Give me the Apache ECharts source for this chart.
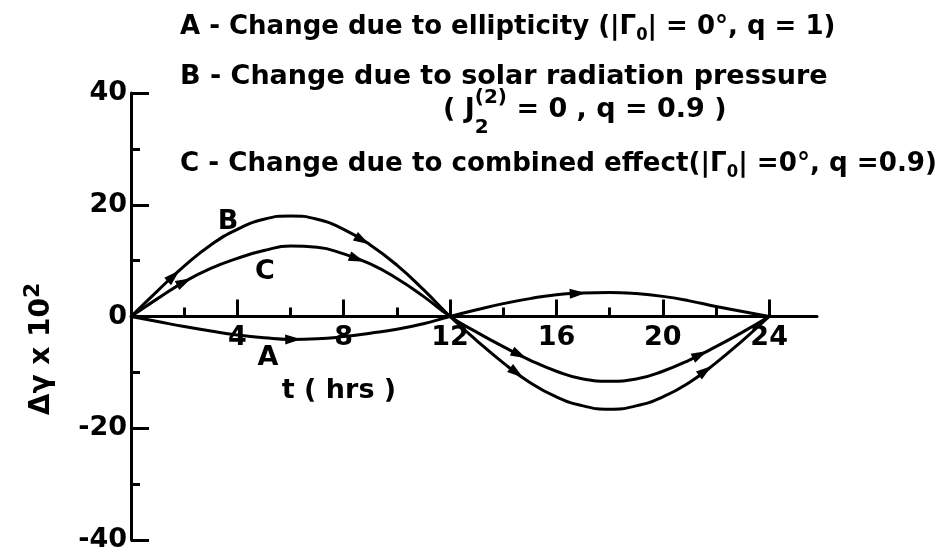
<!DOCTYPE html>
<html>
<head>
<meta charset="utf-8">
<script src="https://cdn.jsdelivr.net/npm/echarts@6/dist/echarts.min.js"></script>
<style>
  html, body { margin: 0; padding: 0; background: #fff; }
  #chart { width: 944px; height: 560px; }
</style>
</head>
<body>
<div id="chart"></div>
<script>
// Time in hours
const hours = [0, 1, 2, 3, 4, 5, 6, 7, 8, 9, 10, 11, 12, 13, 14, 15, 16, 17, 18, 19, 20, 21, 22, 23, 24];

// Δγ × 10² for each effect
const curveA = [0, -0.9, -1.8, -2.6, -3.3, -3.8, -4.1, -4.0, -3.6, -3.0, -2.3, -1.3, 0,
                1.2, 2.3, 3.2, 3.9, 4.2, 4.3, 4.1, 3.6, 2.8, 1.8, 0.9, 0];
const curveB = [0, 4.6, 9.0, 12.8, 15.6, 17.4, 18.0, 17.4, 15.6, 12.8, 9.2, 4.8, 0,
                -4.3, -8.3, -11.8, -14.4, -16.0, -16.6, -16.0, -14.4, -11.8, -8.3, -4.3, 0];
const curveC = [0, 3.2, 6.2, 8.6, 10.4, 11.8, 12.6, 12.4, 11.2, 9.4, 6.8, 3.6, 0,
                -2.8, -5.4, -7.8, -9.8, -11.2, -11.6, -11.2, -9.8, -7.8, -5.4, -2.8, 0];

// Times at which direction arrows sit on each curve
const arrowsA = [6.1, 16.8];
const arrowsB = [1.6, 8.7, 14.5, 21.6];
const arrowsC = [2.0, 8.5, 14.6, 21.4];

// Axis ticks
const xMajorTicks = [4, 8, 12, 16, 20, 24];
const xMinorTicks = [2, 6, 10, 14, 18, 22];

const FONT = "'DejaVu Sans', sans-serif";

function valueAt(vals, t) {
  let i = 0;
  while (i < hours.length - 2 && hours[i + 1] <= t) i++;
  const f = (t - hours[i]) / (hours[i + 1] - hours[i]);
  return vals[i] * (1 - f) + vals[i + 1] * f;
}

function arrowData(vals, times) {
  return times.map(t => {
    const t2 = t + 0.3;
    return [t, valueAt(vals, t), t2, valueAt(vals, t2)];
  });
}

// Filled arrowhead laid along the local direction of the curve
function renderArrow(params, api) {
  const p = api.coord([api.value(0), api.value(1)]);
  const q = api.coord([api.value(2), api.value(3)]);
  let dx = q[0] - p[0], dy = q[1] - p[1];
  const L = Math.hypot(dx, dy) || 1;
  dx /= L; dy /= L;
  const len = 16, hw = 5;
  const tip = [p[0] + dx * len / 2, p[1] + dy * len / 2];
  const b = [p[0] - dx * len / 2, p[1] - dy * len / 2];
  return {
    type: 'polygon',
    shape: { points: [tip, [b[0] - dy * hw, b[1] + dx * hw], [b[0] + dy * hw, b[1] - dx * hw]] },
    style: { fill: '#000' }
  };
}

function lineSeries(name, vals) {
  return {
    name, type: 'line', xAxisIndex: 0, yAxisIndex: 0,
    data: hours.map((h, i) => [h, vals[i]]),
    smooth: true, showSymbol: false, symbol: 'none',
    lineStyle: { color: '#000', width: 3 },
    z: 3
  };
}

function arrowSeries(vals, times) {
  return {
    type: 'custom', xAxisIndex: 0, yAxisIndex: 0,
    data: arrowData(vals, times),
    encode: { x: 0, y: 1 },
    renderItem: renderArrow,
    z: 4
  };
}

const gridBox = { left: 131, top: 93, width: 686, height: 447, outerBoundsMode: 'none', containLabel: false };
const black = '#000';

function headText(x, y, text, scaleX, extra) {
  return {
    type: 'text', x, y, scaleX,
    style: Object.assign({
      text, font: 'bold 27px ' + FONT, fill: black, lineHeight: 34, align: 'left', verticalAlign: 'top',
      rich: { sub: { fontSize: 17, fontWeight: 'bold', fontFamily: FONT, lineHeight: 17, verticalAlign: 'bottom' } }
    }, extra || {})
  };
}

const chart = echarts.init(document.getElementById('chart'), null, { renderer: 'canvas' });

const option = {
  backgroundColor: '#fff',
  animation: false,
  grid: [Object.assign({}, gridBox), Object.assign({}, gridBox)],
  xAxis: [
    {
      gridIndex: 0, type: 'value', min: 0, max: 25.8,
      splitLine: { show: false },
      axisLine: { onZero: true, lineStyle: { color: black, width: 3 } },
      axisTick: { customValues: xMajorTicks, inside: true, length: 17, lineStyle: { color: black, width: 3 } },
      axisLabel: { show: false }
    },
    {
      gridIndex: 1, type: 'value', min: 0, max: 25.8,
      splitLine: { show: false },
      axisLine: { show: false, onZero: true },
      axisTick: { customValues: xMinorTicks, inside: true, length: 9, lineStyle: { color: black, width: 3 } },
      axisLabel: { show: false }
    }
  ],
  yAxis: [
    {
      gridIndex: 0, type: 'value', min: -40, max: 40, interval: 20,
      splitLine: { show: false },
      axisLine: { show: true, onZero: false, lineStyle: { color: black, width: 3 } },
      axisTick: { inside: true, length: 18, lineStyle: { color: black, width: 3 } },
      minorTick: { show: true, splitNumber: 2, length: 9, lineStyle: { color: black, width: 3 } },
      minorSplitLine: { show: false },
      axisLabel: {
        margin: 4, color: black, fontSize: 27, fontWeight: 'bold', fontFamily: FONT,
        formatter: v => (v < 0 ? '-' + (-v) : String(v))
      }
    },
    { gridIndex: 1, type: 'value', min: -40, max: 40, show: false }
  ],
  series: [
    lineSeries('A', curveA),
    lineSeries('B', curveB),
    lineSeries('C', curveC),
    arrowSeries(curveA, arrowsA),
    arrowSeries(curveB, arrowsB),
    arrowSeries(curveC, arrowsC),
    {
      // hour labels sitting just under the time axis
      type: 'scatter', xAxisIndex: 0, yAxisIndex: 0,
      data: xMajorTicks.map(t => [t, 0]),
      symbolSize: 0, silent: true,
      itemStyle: { color: black, opacity: 1 },
      label: {
        show: true, position: 'bottom', distance: 8,
        formatter: p => String(p.value[0]),
        color: black, opacity: 1, fontSize: 27, fontWeight: 'bold', fontFamily: FONT
      },
      z: 2
    }
  ],
  graphic: [
    headText(180, 10, 'A - Change due to ellipticity (|Γ{sub|0}| = 0°, q = 1)', 0.963),
    headText(180, 60, 'B - Change due to solar radiation pressure', 1),
    headText(443, 82, '( J{sub|2}{sup|(2)} = 0 , q = 0.9 )', 1, {
      lineHeight: 56,
      rich: {
        sub: { fontSize: 20, fontWeight: 'bold', fontFamily: FONT, lineHeight: 22, verticalAlign: 'bottom', width: 0 },
        sup: { fontSize: 20, fontWeight: 'bold', fontFamily: FONT, lineHeight: 40, verticalAlign: 'top', padding: [6, 0, 0, 0] }
      }
    }),
    headText(180, 147, 'C - Change due to combined effect(|Γ{sub|0}| =0°, q =0.9)', 0.968),
    // curve letters
    { type: 'text', x: 228, y: 222, style: { text: 'B', font: 'bold 27px ' + FONT, fill: black, align: 'center', verticalAlign: 'middle' } },
    { type: 'text', x: 265, y: 272, style: { text: 'C', font: 'bold 27px ' + FONT, fill: black, align: 'center', verticalAlign: 'middle' } },
    { type: 'text', x: 268, y: 358, style: { text: 'A', font: 'bold 27px ' + FONT, fill: black, align: 'center', verticalAlign: 'middle' } },
    // axis titles
    { type: 'text', x: 339, y: 391, style: { text: 't ( hrs )', font: 'bold 27px ' + FONT, fill: black, align: 'center', verticalAlign: 'middle' } },
    {
      type: 'text', x: 42, y: 349, rotation: Math.PI / 2,
      style: {
        text: 'Δγ x 10{sup|2}', font: 'bold 28px ' + FONT, fill: black, align: 'center', verticalAlign: 'middle', lineHeight: 40,
        rich: { sup: { fontSize: 22, fontWeight: 'bold', fontFamily: FONT, lineHeight: 22, verticalAlign: 'top' } }
      }
    }
  ]
};

chart.setOption(option);
</script>
</body>
</html>
